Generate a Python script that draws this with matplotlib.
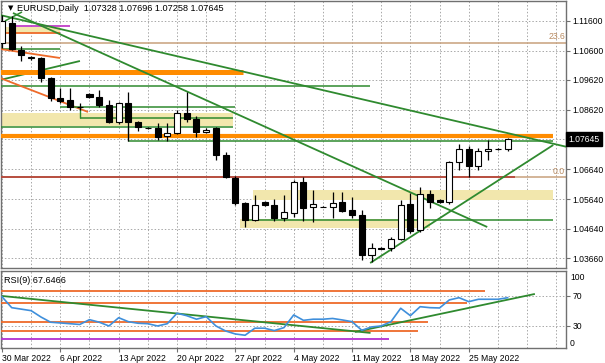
import numpy as np
import matplotlib.pyplot as plt
from matplotlib import font_manager
from matplotlib.transforms import blended_transform_factory

# font: narrow face if it is there (MT4 text is compact)
names = {f.name for f in font_manager.fontManager.ttflist}
fam = 'Liberation Sans Narrow' if 'Liberation Sans Narrow' in names else 'Liberation Sans'
plt.rcParams['font.family'] = [fam, 'DejaVu Sans']
FS = 6.2

# ------------------------------------------------------------
# daily bars (Sunday bars included), index 0 = 30 Mar 2022
# ------------------------------------------------------------
opens = [1.1085, 1.1152, 1.1062, 1.1036, 1.1035, 1.0968, 1.0902, 1.0895, 1.0873, 1.0915,
         1.0904, 1.0877, 1.0820, 1.0884, 1.0820, 1.0802, 1.0801, 1.0774, 1.0784, 1.0851,
         1.0831, 1.0788, 1.0801, 1.0711, 1.0633, 1.0550, 1.0493, 1.0553, 1.0543, 1.0500,
         1.0517, 1.0621, 1.0536, 1.0538, 1.0536, 1.0553, 1.0527, 1.0510, 1.0377, 1.0402,
         1.0400, 1.0432, 1.0547, 1.0460, 1.0580, 1.0561, 1.0553, 1.0687, 1.0731, 1.0674,
         1.0724, 1.0731, 1.07328]
highs = [1.1178, 1.1175, 1.1075, 1.1042, 1.1040, 1.0972, 1.0935, 1.0935, 1.0884, 1.0918,
         1.0928, 1.0895, 1.0887, 1.0921, 1.0824, 1.0804, 1.0817, 1.0817, 1.0861, 1.0921,
         1.0840, 1.0800, 1.0805, 1.0721, 1.0640, 1.0553, 1.0576, 1.0556, 1.0565, 1.0576,
         1.0628, 1.0638, 1.0594, 1.0540, 1.0589, 1.0589, 1.0570, 1.0527, 1.0417, 1.0404,
         1.0437, 1.0560, 1.0583, 1.0603, 1.0593, 1.0563, 1.0690, 1.0748, 1.0741, 1.0734,
         1.0762, 1.0733, 1.07696]
lows = [1.1070, 1.1062, 1.1025, 1.1030, 1.0955, 1.0893, 1.0885, 1.0862, 1.0862, 1.0900,
        1.0871, 1.0818, 1.0816, 1.0757, 1.0790, 1.0798, 1.0762, 1.0757, 1.0780, 1.0821,
        1.0770, 1.0785, 1.0694, 1.0633, 1.0543, 1.0470, 1.0490, 1.0541, 1.0490, 1.0490,
        1.0505, 1.0490, 1.0487, 1.0536, 1.0500, 1.0520, 1.0500, 1.0360, 1.0353, 1.0396,
        1.0390, 1.0428, 1.0452, 1.0455, 1.0533, 1.0551, 1.0548, 1.0661, 1.0636, 1.0661,
        1.0694, 1.0729, 1.07258]
closes = [1.1160, 1.1065, 1.1044, 1.1040, 1.0968, 1.0901, 1.0893, 1.0872, 1.0871, 1.0904,
          1.0877, 1.0820, 1.0884, 1.0820, 1.0804, 1.0801, 1.0771, 1.0784, 1.0851, 1.0831,
          1.0788, 1.0795, 1.0711, 1.0637, 1.0550, 1.0493, 1.0543, 1.0543, 1.0500, 1.0520,
          1.0621, 1.0534, 1.0546, 1.0537, 1.0550, 1.0523, 1.0510, 1.0377, 1.0400, 1.0398,
          1.0430, 1.0544, 1.0456, 1.0580, 1.0553, 1.0553, 1.0687, 1.0731, 1.0674, 1.0724,
          1.0731, 1.0730, 1.07645]

rsi = [69, 54.4, 52.4, 50.4, 42, 35, 34, 33, 32, 38.4,
       35, 30, 41, 35.7, 33.6, 33, 30, 33, 47, 43.7,
       39, 42.4, 30, 23.3, 19.3, 17.6, 27, 27, 23.8, 27.8,
       44.7, 37.5, 39, 39, 40, 38, 35.7, 24.2, 28.7, 30,
       35.7, 53.6, 43.7, 55.7, 54.4, 54, 64.7, 67.7, 62.4, 65.6,
       65.6, 65.6, 67.6466]

date_pos = [0, 6, 12, 18, 24, 30, 36, 42, 48]
date_labels = ['30 Mar 2022', '6 Apr 2022', '13 Apr 2022', '20 Apr 2022', '27 Apr 2022',
               '4 May 2022', '11 May 2022', '18 May 2022', '25 May 2022']
price_ticks = [1.1160, 1.1060, 1.0962, 1.0862, 1.0664, 1.0564, 1.0464, 1.0366]
price_labels = ['1.11600', '1.10600', '1.09620', '1.08620', '1.06640', '1.05640', '1.04640', '1.03660']
last_price = 1.07645

# drawn objects: (x0, y0, x1, y1, colour, width)
GREEN = '#2f8a2f'
ORED = '#ee6a2a'
ORANGE = '#ff8c00'
main_lines = [
    (1.34, 1.11423, 7.0, 1.11423, '#c03fc8', 1.3),
    (-0.2, 1.1119, 5.97, 1.1119, ORED, 1.3),
    (-0.2, 1.10654, 5.97, 1.10654, GREEN, 1.1),
    (-0.2, 1.10654, 5.97, 1.10353, ORED, 1.3),
    (-0.2, 1.09618, 8.02, 1.10253, GREEN, 1.3),
    (-0.2, 1.09869, 24.8, 1.09869, ORANGE, 3.6),
    (-0.2, 1.09418, 37.86, 1.09418, GREEN, 1.1),
    (-0.2, 1.09685, 8.85, 1.08549, ORED, 1.3),
    (5.97, 1.08716, 23.97, 1.08716, GREEN, 1.1),
    (8.02, 1.08348, 23.77, 1.08348, GREEN, 1.1),
    (8.02, 1.08716, 8.02, 1.08348, GREEN, 1.0),
    (-0.2, 1.08047, 23.77, 1.08047, GREEN, 1.1),
    (-0.2, 1.0773, 56.69, 1.0773, ORANGE, 3.0),
    (12.96, 1.07579, 56.69, 1.07579, GREEN, 1.1),
    (12.96, 1.0808, 12.96, 1.07579, '#8a9a8a', 1.0),
    (-0.2, 1.06376, 52.78, 1.06376, '#b5473a', 1.3),
    (24.8, 1.0494, 56.69, 1.0494, GREEN, 1.1),
    (-0.21, 1.1179, 58.13, 1.07379, GREEN, 1.3),
    (1.13, 1.11857, 49.9, 1.04705, GREEN, 1.3),
    (37.86, 1.03502, 56.69, 1.07446, GREEN, 1.3),
    (0.3, 1.1159, 2.06, 1.11891, GREEN, 1.1),
]
# zones: (x0, x1, y_low, y_high)
zones = [
    (-0.2, 5.97, 1.1119, 1.1139),
    (-0.2, 23.77, 1.08081, 1.08515),
    (25.8, 56.69, 1.05607, 1.05941),
    (24.5, 44.0, 1.04671, 1.04972),
]
fib_levels = [1.10871, 1.06376]
fib_names = ['23.6', '0.0']

rsi_lines = [
    (-0.2, 76.7, 49.69, 76.7, ORED, 1.3),
    (-0.2, 60.7, 47.8, 60.7, ORED, 1.3),
    (-0.2, 35.3, 43.8, 35.3, ORED, 1.3),
    (-0.2, 23.3, 42.8, 23.3, ORED, 1.3),
    (-0.2, 12.7, 39.8, 12.7, '#b22fd0', 1.3),
    (0.0, 70.0, 37.9, 20.7, GREEN, 1.3),
    (36.3, 22.0, 54.8, 72.7, GREEN, 1.3),
]

# ------------------------------------------------------------
W, H = 605, 363
fig = plt.figure(figsize=(W / 100, H / 100), dpi=100)


def rect(x0, y0, x1, y1):
    return [x0 / W, 1 - y1 / H, (x1 - x0) / W, (y1 - y0) / H]


ax = fig.add_axes(rect(1, 1, 566, 268))
axr = fig.add_axes(rect(1, 271, 566, 348))

grid_kw = dict(color='#a8a8a8', lw=0.7, ls=(0, (1.5, 2)), zorder=0)
for a in (ax, axr):
    a.set_xlim(-0.1, 58.0)
    for s in a.spines.values():
        s.set_color('#707070')
        s.set_linewidth(1.0)
    for gx in range(0, 58, 3):
        a.axvline(gx, **grid_kw)
    a.yaxis.tick_right()
    a.tick_params(axis='y', labelsize=FS, length=3, pad=1.5, color='#707070')

# ---- price panel
ax.set_ylim(1.03335, 1.12258)
ax.set_yticks(price_ticks)
ax.set_yticklabels(price_labels)
ax.set_xticks([])
for p in price_ticks + [1.0764]:
    ax.axhline(p, **grid_kw)

for x0, x1, lo, hi in zones:
    ax.fill_between([x0, x1], lo, hi, color='#f2e7ad', lw=0, zorder=1)

for i, lv in enumerate(fib_levels):
    ax.axhline(lv, color='#c8a07c', lw=1.1, zorder=2)
    ax.text(57.9, lv + 0.0004, fib_names[i], color='#b88a60', fontsize=FS,
            ha='right', va='bottom', zorder=6)

for x0, y0, x1, y1, c, lw in main_lines:
    ax.plot([x0, x1], [y0, y1], color=c, lw=lw, solid_capstyle='butt', zorder=3)

idx = np.arange(len(opens))
o = np.array(opens)
c = np.array(closes)
ax.vlines(idx, lows, highs, color='black', lw=0.9, zorder=4)
up = c >= o
ax.bar(idx, np.abs(c - o), bottom=np.minimum(o, c), width=0.62,
       color=np.where(up, 'white', 'black'), edgecolor='black', lw=0.8, zorder=5)

ax.text(0.012, 0.985, '\u25bc', transform=ax.transAxes, fontsize=5,
        ha='left', va='top', family='DejaVu Sans')
ax.text(0.028, 0.988, 'EURUSD,Daily  1.07328 1.07696 1.07258 1.07645',
        transform=ax.transAxes, fontsize=FS + 0.4, ha='left', va='top')

tr = blended_transform_factory(ax.transAxes, ax.transData)
ax.text(1.004, last_price, '1.07645', transform=tr, color='white', fontsize=FS,
        ha='left', va='center',
        bbox=dict(boxstyle='square,pad=0.25', fc='black', ec='black'), zorder=10,
        clip_on=False)

# ---- RSI panel
axr.set_ylim(0.6, 103.3)
axr.set_yticks([30, 70])
axr.set_yticklabels(['30', '70'])
for lv in (30, 70):
    axr.axhline(lv, **grid_kw)
trr = blended_transform_factory(axr.transAxes, axr.transData)
axr.text(1.007, 94, '100', transform=trr, fontsize=FS, ha='left', va='center')
axr.text(1.007, 6, '0', transform=trr, fontsize=FS, ha='left', va='center')

for x0, y0, x1, y1, col, lw in rsi_lines:
    axr.plot([x0, x1], [y0, y1], color=col, lw=lw, solid_capstyle='butt', zorder=3)
axr.plot(idx, rsi, color='#3f8fdb', lw=1.2, zorder=4)
axr.text(0.006, 0.88, 'RSI(9) 67.6466', transform=axr.transAxes, fontsize=FS + 0.4,
         ha='left', va='center')

axr.set_xticks(date_pos)
axr.set_xticklabels(date_labels, ha='left', fontsize=FS)
axr.tick_params(axis='x', length=3, pad=1, color='#707070')

fig.savefig('out.png', dpi=100)
